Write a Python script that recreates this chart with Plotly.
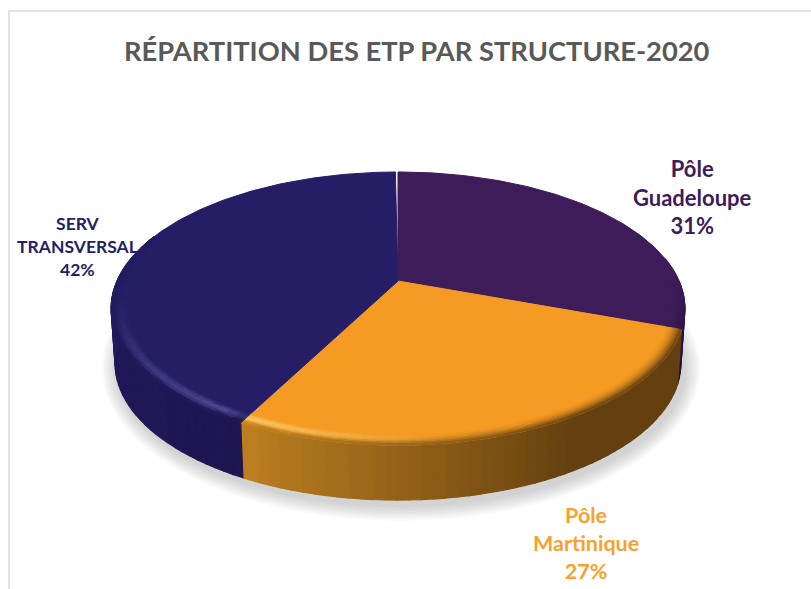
import math
from collections import OrderedDict
import numpy as np
import plotly.graph_objects as go

# ---- data ----
title = "RÉPARTITION DES ETP PAR STRUCTURE-2020"
categories = ["Pôle<br>Guadeloupe", "Pôle<br>Martinique", "SERV<br>TRANSVERSAL"]
values = [30.6, 27.0, 42.4]
colors = ["#3e1c59", "#f59a23", "#251e66"]

W, H = 811, 589
CX, CY, F, G, K = 398.0, 281.0, 281.0, 131.0, 0.2016   # projected-disc geometry
DEPTH = 55.0


def hex2rgb(h):
    return np.array([int(h[i:i + 2], 16) for i in (1, 3, 5)], float)


def mix(a, b, t):
    return a + (b - a) * max(0.0, min(1.0, t))


def css(c):
    c = np.clip(np.round(c / 2) * 2, 0, 255).astype(int)
    return f"rgb({c[0]},{c[1]},{c[2]})"


def top(theta, r=1.0):
    s, c = math.sin(theta), math.cos(theta)
    d = 1 + K * r * c
    return CX + F * r * s / d, CY - G * r * c / d


def bottom(theta):
    x, y = top(theta)
    return CX + (x - CX) * 0.986, y + DEPTH


def side_colour(i, deg):
    if i == 1:  # orange wall darkens rightwards
        t = (207 - deg) / 58
        return mix(hex2rgb("#bd7f20"), hex2rgb("#64400f"), t)
    if i == 2:
        return mix(hex2rgb("#1e1650"), hex2rgb("#221a5e"), (deg - 207) / 70)
    return hex2rgb("#2a1040")


def highlight(i, deg):
    if i == 1:
        return max(0.0, min(1.0, (deg - 170) / 36))
    if i == 2:
        return max(0.0, min(1.0, (deg - 206) / 6)) * max(0.0, min(1.0, (262 - deg) / 50))
    return 0.0


edges = np.cumsum([0] + values) / sum(values) * 360.0

fig = go.Figure()

# soft shadow under the disc
angles = np.radians(np.arange(0, 361, 3))
for grow in range(16, 0, -2):
    pts = [bottom(a) for a in angles]
    xs = [CX + 3 + (p[0] - CX) * (1 + grow / 283) for p in pts]
    ys = [366 + 5 + (p[1] - 366) * (1 + grow / 137) for p in pts]
    fig.add_trace(go.Scatter(x=xs, y=ys, mode="lines", fill="toself", line=dict(width=0),
                             fillcolor="rgba(120,125,122,0.045)", hoverinfo="skip"))

buckets = OrderedDict()


def add_poly(col, pts):
    b = buckets.setdefault(col, ([], []))
    b[0].extend([p[0] for p in pts] + [pts[0][0], None])
    b[1].extend([p[1] for p in pts] + [pts[0][1], None])


# side wall, back to front
STEP = 2.0
for i in range(3):
    d0, d1 = edges[i], edges[i + 1]
    deg = d0
    while deg < d1 - 1e-6:
        nxt = min(deg + STEP, d1)
        if 80 < nxt and deg < 290:
            a, b = math.radians(deg), math.radians(nxt)
            add_poly(css(side_colour(i, (deg + nxt) / 2)), [top(a), top(b), bottom(b), bottom(a)])
        deg = nxt

for col, (xs, ys) in buckets.items():
    fig.add_trace(go.Scatter(x=xs, y=ys, mode="lines", fill="toself", fillcolor=col,
                             line=dict(color=col, width=1.2), hoverinfo="skip"))

# flat top wedges
INNER = 0.95
for i in range(3):
    degs = np.radians(np.arange(edges[i], edges[i + 1] + 0.01, 1.0))
    pts = [top(a) for a in degs]
    xs = [CX] + [p[0] for p in pts] + [CX]
    ys = [CY] + [p[1] for p in pts] + [CY]
    fig.add_trace(go.Scatter(x=xs, y=ys, mode="lines", fill="toself", fillcolor=colors[i],
                             line=dict(color=colors[i], width=1), hoverinfo="skip"))

# bevel around the rim of the front half
buckets = OrderedDict()
N = 7
for i in range(3):
    base = hex2rgb(colors[i])
    glow = mix(base, hex2rgb("#fff0a0") if i == 1 else hex2rgb("#8f8ad0"), 0.4 if i == 2 else 0.5)
    deg = max(edges[i], 90.0)
    while deg < min(edges[i + 1], 290.0) - 1e-6:
        nxt = min(deg + STEP, edges[i + 1])
        a, b = math.radians(deg), math.radians(nxt)
        m = (deg + nxt) / 2
        fade = min(1.0, (m - 90) / 25) if i == 0 else 1.0
        for n in range(N):
            u0, u1 = n / N, (n + 1) / N
            um = (u0 + u1) / 2
            r0, r1 = INNER + (1 - INNER) * u0, INNER + (1 - INNER) * u1
            c = mix(base, side_colour(i, m), um ** 1.8)
            c = mix(c, glow, highlight(i, m) * math.sin(math.pi * min(1, um * 1.25)))
            c = mix(base, c, fade)
            add_poly(css(c), [top(a, r0), top(b, r0), top(b, r1), top(a, r1)])
        deg = nxt

for col, (xs, ys) in buckets.items():
    fig.add_trace(go.Scatter(x=xs, y=ys, mode="lines", fill="toself", fillcolor=col,
                             line=dict(color=col, width=1), hoverinfo="skip"))

label_pos = [(692, 197, 22), (586, 543, 21.5), (77, 246, 17.5)]
label_col = ["#3e1c59", "#f9a02e", "#251e66"]
for cat, val, (lx, ly, fs), col in zip(categories, values, label_pos, label_col):
    fig.add_annotation(x=lx, y=ly, text=f"<b>{cat}<br>{val:.0f}%</b>", showarrow=False,
                       font=dict(family="Lato", size=fs, color=col), align="center")

fig.add_annotation(x=417, y=50, text=f"<b>{title}</b>", showarrow=False,
                   font=dict(family="Lato", size=27.3, color="#595959"))

fig.add_shape(type="rect", x0=9, y0=11, x1=840, y1=620, line=dict(color="#d9d9d9", width=1.5), layer="below")

fig.update_layout(
    width=W, height=H, margin=dict(l=0, r=0, t=0, b=0), showlegend=False,
    paper_bgcolor="white", plot_bgcolor="white", hovermode=False,
    xaxis=dict(range=[0, W], visible=False, fixedrange=True),
    yaxis=dict(range=[H, 0], visible=False, fixedrange=True),
)
fig.write_html("out.html", config={"displayModeBar": False},
               post_script="document.body.style.margin='0';document.documentElement.style.overflow='hidden';")
